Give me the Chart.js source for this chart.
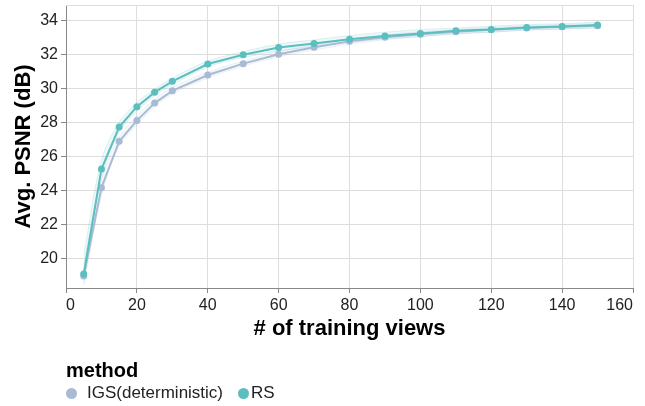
<!DOCTYPE html>
<html>
<head>
<meta charset="utf-8">
<script src="https://cdn.jsdelivr.net/npm/chart.js@4"></script>
<style>
  body { margin: 0; background: #fff; }
  #wrap { position: relative; width: 645px; height: 406px; font-family: "Liberation Sans", Arial, sans-serif; color: #000; }
  #legend-title { position: absolute; left: 66px; top: 360px; font-size: 20px; line-height: 20px; font-weight: bold; }
  .dot { position: absolute; width: 11px; height: 11px; border-radius: 50%; top: 388px; }
  .lbl { position: absolute; top: 384px; font-size: 17px; line-height: 17px; color: #222; }
</style>
</head>
<body>
<div id="wrap">
  <canvas id="chart" width="645" height="406"></canvas>
  <div id="legend-title">method</div>
  <div class="dot" style="left:66px;background:#a8bbd4"></div>
  <div class="lbl" style="left:87px">IGS(deterministic)</div>
  <div class="dot" style="left:238px;background:#5bbebf"></div>
  <div class="lbl" style="left:251px">RS</div>
</div>
<script>
// 学習ビュー数
const views = [5, 10, 15, 20, 25, 30, 40, 50, 60, 70, 80, 90, 100, 110, 120, 130, 140, 150];

// 平均 PSNR
const igsMean = [18.96, 24.15, 26.88, 28.10, 29.13, 29.85, 30.78, 31.45, 32.00, 32.41, 32.76, 33.00, 33.18, 33.33, 33.44, 33.55, 33.62, 33.68];
const rsMean  = [19.08, 25.25, 27.72, 28.92, 29.76, 30.41, 31.43, 31.97, 32.40, 32.64, 32.88, 33.08, 33.23, 33.38, 33.46, 33.58, 33.64, 33.72];

// 信頼区間の上下
const igsUpper = [19.60, 24.60, 27.15, 28.35, 29.35, 30.05, 30.95, 31.60, 32.15, 32.55, 32.90, 33.15, 33.32, 33.45, 33.57, 33.67, 33.75, 33.80];
const igsLower = [18.40, 23.70, 26.60, 27.85, 28.90, 29.65, 30.60, 31.30, 31.85, 32.25, 32.60, 32.85, 33.03, 33.20, 33.30, 33.43, 33.50, 33.55];
const rsUpper  = [20.20, 25.75, 28.00, 29.15, 29.95, 30.60, 31.60, 32.15, 32.60, 32.85, 33.10, 33.30, 33.45, 33.55, 33.65, 33.75, 33.80, 33.90];
const rsLower  = [18.50, 24.70, 27.40, 28.65, 29.55, 30.20, 31.25, 31.80, 32.20, 32.45, 32.70, 32.90, 33.05, 33.20, 33.30, 33.42, 33.48, 33.55];

const xTicks = [0, 20, 40, 60, 80, 100, 120, 140, 160];
const yTicks = [20, 22, 24, 26, 28, 30, 32, 34];

const igsColor = '#a8bbd4';
const rsColor  = '#5bbebf';

const toPoints = arr => arr.map((y, i) => ({ x: views[i], y }));

const lineSet = (label, data, color, order) => ({
  label, data: toPoints(data), order,
  borderColor: color, backgroundColor: color,
  borderWidth: 2, pointRadius: 3.5, pointHoverRadius: 3.5,
  pointBorderWidth: 0, fill: false, tension: 0
});

const bandSet = (data, color, fill) => ({
  data: toPoints(data), order: 3,
  borderColor: color + '30', backgroundColor: color + '1a',
  borderWidth: 1, pointRadius: 0, fill, tension: 0.35
});

// プロット領域の上枠
const frame = {
  id: 'frame',
  beforeDatasetsDraw(chart) {
    const { ctx, chartArea: a } = chart;
    ctx.save();
    ctx.strokeStyle = '#ddd';
    ctx.lineWidth = 1;
    ctx.beginPath();
    ctx.moveTo(a.left, a.top + 0.5);
    ctx.lineTo(a.right, a.top + 0.5);
    ctx.stroke();
    ctx.restore();
  }
};

// ラベルのはみ出し分の余白を無視する
const noPad = s => { s.paddingLeft = 0; s.paddingRight = 0; s.paddingTop = 0; s.paddingBottom = 0; };

const font = { family: '"Liberation Sans", Arial, sans-serif' };

new Chart(document.getElementById('chart'), {
  type: 'line',
  data: {
    datasets: [
      lineSet('IGS(deterministic)', igsMean, igsColor, 2),
      lineSet('RS', rsMean, rsColor, 1),
      bandSet(igsUpper, igsColor, false),
      bandSet(igsLower, igsColor, '-1'),
      bandSet(rsUpper, rsColor, false),
      bandSet(rsLower, rsColor, '-1')
    ]
  },
  options: {
    responsive: false,
    animation: false,
    layout: { padding: { left: 0, top: 5, right: 12, bottom: 63 } },
    plugins: { legend: { display: false }, tooltip: { enabled: false } },
    scales: {
      x: {
        type: 'linear', min: 0, max: 160,
        afterBuildTicks: s => { s.ticks = xTicks.map(value => ({ value })); },
        afterFit: s => { s.height = 55; noPad(s); },
        grid: { color: '#ddd', tickColor: '#888', tickLength: 5 },
        border: { color: '#888' },
        ticks: { color: '#222', padding: 3, maxRotation: 0, align: 'inner', font: { ...font, size: 16 } },
        title: { display: true, text: '# of training views', color: '#000',
                 padding: { top: 0, bottom: 1 }, font: { ...font, size: 22, weight: 'bold' } }
      },
      y: {
        min: 18.25, max: 34.9,
        afterBuildTicks: s => { s.ticks = yTicks.map(value => ({ value })); },
        afterFit: s => { s.width = 66; noPad(s); },
        grid: { color: '#ddd', tickColor: '#888', tickLength: 5 },
        border: { color: '#888' },
        ticks: { color: '#222', padding: 3, font: { ...font, size: 16 } },
        title: { display: true, text: 'Avg. PSNR (dB)', color: '#000',
                 padding: { top: 11, bottom: 0 }, font: { ...font, size: 22, weight: 'bold' } }
      }
    }
  },
  plugins: [frame]
});
</script>
</body>
</html>
